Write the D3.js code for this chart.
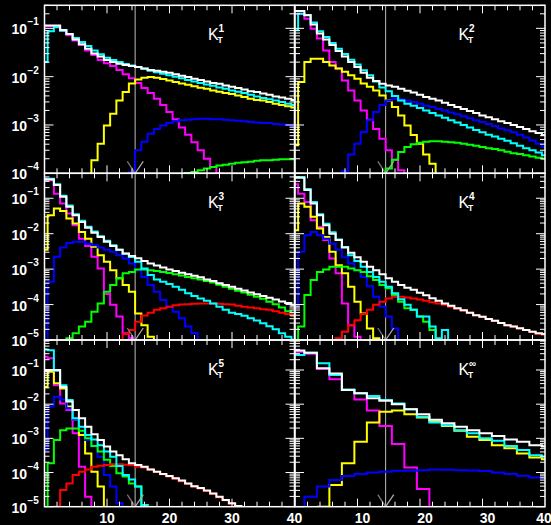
<!DOCTYPE html>
<html>
<head>
<meta charset="utf-8">
<title>K_T distributions</title>
<script src="https://cdn.jsdelivr.net/npm/d3@7"></script>
<style>
  html, body { margin: 0; padding: 0; background: #000; }
  svg { display: block; }
  text { font-family: "Liberation Sans", Arial, Helvetica, sans-serif; fill: #fff; }
</style>
</head>
<body>
<div id="chart"></div>
<script>
// bin centres: panels 1-5 use unit bins, the last panel uses bins of width 2
const unitBins = d3.range(0, 41);
const doubleBins = d3.range(0.5, 41, 2);

// a run of bin contents that starts at bin index `start`
function fromBin(start, values) {
  return new Array(start).fill(null).concat(values);
}

// ---- K_T^1 ----
const kt1White = fromBin(0, [0.115,0.115,0.115,9.3e-2,7.6e-2,5.9e-2,4.7e-2,3.8e-2,3.0e-2,2.6e-2,2.2e-2,2.0e-2,1.86e-2,1.74e-2,1.66e-2,1.58e-2,1.48e-2,1.38e-2,1.32e-2,1.26e-2,1.20e-2,1.12e-2,1.05e-2,9.8e-3,9.1e-3,8.5e-3,7.9e-3,7.4e-3,7.1e-3,6.6e-3,6.2e-3,5.8e-3,5.4e-3,5.0e-3,4.8e-3,4.5e-3,4.2e-3,3.9e-3,3.7e-3,3.5e-3,3.3e-3]);
const kt1Cyan = fromBin(0, [2.0e-2,8.7e-2,1.05e-1,8.9e-2,7.6e-2,6.3e-2,5.2e-2,4.3e-2,3.5e-2,2.9e-2,2.45e-2,2.2e-2,2.0e-2,1.82e-2,1.70e-2,1.58e-2,1.45e-2,1.32e-2,1.23e-2,1.15e-2,1.07e-2,1.0e-2,9.3e-3,8.5e-3,7.9e-3,7.4e-3,6.9e-3,6.5e-3,6.0e-3,5.6e-3,5.2e-3,4.9e-3,4.6e-3,4.2e-3,3.9e-3,3.6e-3,3.4e-3,3.2e-3,3.0e-3,2.75e-3,2.6e-3]);
const kt1Magenta = fromBin(0, [1.1e-1,1.1e-1,1.1e-1,8.9e-2,7.2e-2,5.6e-2,4.5e-2,3.5e-2,2.8e-2,2.2e-2,1.9e-2,1.66e-2,1.38e-2,1.12e-2,9.3e-3,7.4e-3,5.8e-3,4.6e-3,3.5e-3,2.6e-3,1.86e-3,1.32e-3,8.9e-4,6.3e-4,4.4e-4,3.0e-4,2.0e-4,1.35e-4,8e-5]);
const kt1Yellow = fromBin(8, [1.86e-4,4.1e-4,9.8e-4,1.7e-3,3.2e-3,4.8e-3,7.2e-3,8.7e-3,9.5e-3,9.8e-3,9.5e-3,8.9e-3,8.3e-3,7.8e-3,7.2e-3,6.8e-3,6.3e-3,5.9e-3,5.6e-3,5.2e-3,4.9e-3,4.6e-3,4.4e-3,4.1e-3,3.8e-3,3.5e-3,3.3e-3,3.2e-3,3.0e-3,2.75e-3,2.6e-3,2.45e-3,2.3e-3]);
const kt1Blue = fromBin(14, [1.07e-4,3.0e-4,4.5e-4,6.6e-4,8.3e-4,9.8e-4,1.1e-3,1.2e-3,1.26e-3,1.29e-3,1.32e-3,1.35e-3,1.35e-3,1.32e-3,1.32e-3,1.29e-3,1.26e-3,1.23e-3,1.2e-3,1.15e-3,1.12e-3,1.1e-3,1.1e-3,1.05e-3,1.02e-3,1.0e-3,9.5e-4]);
const kt1Green = fromBin(23, [1.02e-4,1.07e-4,1.15e-4,1.26e-4,1.35e-4,1.45e-4,1.51e-4,1.58e-4,1.66e-4,1.7e-4,1.74e-4,1.82e-4,1.86e-4,1.86e-4,1.9e-4,1.95e-4,1.95e-4,1.95e-4]);

// ---- K_T^2 ----
const kt2White = fromBin(0, [2.3e-1,2.3e-1,1.86e-1,1.2e-1,7.8e-2,5.9e-2,4.5e-2,3.4e-2,2.6e-2,2.0e-2,1.58e-2,1.2e-2,9.5e-3,8.1e-3,7.1e-3,6.6e-3,6.2e-3,5.6e-3,5.1e-3,4.7e-3,4.2e-3,3.8e-3,3.5e-3,3.2e-3,2.9e-3,2.6e-3,2.35e-3,2.15e-3,1.95e-3,1.78e-3,1.58e-3,1.45e-3,1.32e-3,1.2e-3,1.1e-3,1.0e-3,9.1e-4,8.3e-4,7.4e-4,6.8e-4,6.2e-4]);
const kt2Cyan = fromBin(0, [9.1e-2,2.0e-1,1.9e-1,1.32e-1,8.7e-2,6.6e-2,5.0e-2,3.8e-2,2.95e-2,2.24e-2,1.78e-2,1.35e-2,1.07e-2,7.9e-3,6.0e-3,5.0e-3,4.0e-3,3.2e-3,2.75e-3,2.5e-3,2.24e-3,2.0e-3,1.78e-3,1.58e-3,1.41e-3,1.26e-3,1.12e-3,1.0e-3,8.9e-4,7.9e-4,7.1e-4,6.3e-4,5.8e-4,5.2e-4,4.7e-4,4.2e-4,3.7e-4,3.3e-4,3.0e-4,2.7e-4,2.35e-4]);
const kt2Magenta = fromBin(0, [2.0e-1,2.0e-1,1.58e-1,9.8e-2,6.2e-2,3.5e-2,2.0e-2,1.48e-2,8.3e-3,5.2e-3,3.2e-3,2.0e-3,1.29e-3,8.3e-4,5.2e-4,3.0e-4,1.9e-4,1.15e-4]);
const kt2Yellow = fromBin(0, [3.8e-4,7.8e-3,2.0e-2,2.35e-2,2.35e-2,2.0e-2,1.7e-2,1.48e-2,1.26e-2,1.07e-2,9.1e-3,7.2e-3,6.2e-3,5.2e-3,4.1e-3,3.2e-3,2.35e-3,1.58e-3,9.8e-4,6.2e-4,4.1e-4,2.45e-4,1.58e-4]);
const kt2Blue = fromBin(8, [1.12e-4,2.45e-4,4.1e-4,7.2e-4,1.26e-3,1.86e-3,2.6e-3,3.2e-3,3.5e-3,3.4e-3,3.2e-3,3.0e-3,2.75e-3,2.5e-3,2.35e-3,2.14e-3,2.0e-3,1.82e-3,1.66e-3,1.51e-3,1.38e-3,1.26e-3,1.15e-3,1.05e-3,9.5e-4,8.5e-4,7.8e-4,7.1e-4,6.3e-4,5.5e-4,4.8e-4,4.1e-4,3.5e-4]);
const kt2Green = fromBin(15, [1.26e-4,1.9e-4,2.75e-4,3.5e-4,4.0e-4,4.3e-4,4.5e-4,4.6e-4,4.6e-4,4.5e-4,4.4e-4,4.3e-4,4.1e-4,3.9e-4,3.7e-4,3.5e-4,3.3e-4,3.2e-4,3.0e-4,2.8e-4,2.6e-4,2.5e-4,2.35e-4,2.24e-4,2.1e-4,2.0e-4]);

// ---- K_T^3 ----
const kt3White = fromBin(0, [3.4e-1,3.4e-1,2.35e-1,1.1e-1,5.8e-2,3.3e-2,2.15e-2,1.48e-2,1.07e-2,8.1e-3,5.9e-3,4.5e-3,3.5e-3,2.75e-3,2.35e-3,2.04e-3,1.7e-3,1.45e-3,1.26e-3,1.12e-3,9.8e-4,8.9e-4,7.9e-4,7.2e-4,6.5e-4,5.9e-4,5.1e-4,4.6e-4,4.0e-4,3.55e-4,3.2e-4,2.8e-4,2.5e-4,2.2e-4,1.95e-4,1.74e-4,1.55e-4,1.38e-4,1.23e-4,1.1e-4,9.8e-5]);
const kt3Cyan = fromBin(0, [3.55e-1,3.55e-1,2.5e-1,1.17e-1,6.2e-2,3.55e-2,2.3e-2,1.58e-2,1.15e-2,8.5e-3,6.3e-3,4.7e-3,3.5e-3,2.7e-3,2.2e-3,1.62e-3,1.05e-3,6.8e-4,5.1e-4,4.4e-4,3.8e-4,3.2e-4,2.6e-4,2.1e-4,1.74e-4,1.48e-4,1.29e-4,1.07e-4,8.7e-5,7.1e-5,5.9e-5,5.4e-5,4.8e-5,4.1e-5,3.55e-5,2.95e-5,2.45e-5,2.0e-5,1.55e-5,1.23e-5,1.02e-5]);
const kt3Magenta = fromBin(0, [3.2e-1,3.2e-1,1.35e-1,7.1e-2,3.7e-2,1.74e-2,7.2e-3,4.5e-3,2.24e-3,1.05e-3,2.0e-4,9.8e-5,4.6e-5,1.55e-5,1.12e-5]);
const kt3Yellow = fromBin(0, [3.5e-3,3.3e-2,5.1e-2,4.4e-2,2.7e-2,1.95e-2,1.12e-2,7.2e-3,4.3e-3,2.45e-3,1.62e-3,9.3e-4,5.5e-4,3.55e-4,2.3e-4,5.6e-5,2.6e-5,1.23e-5]);
const kt3Blue = fromBin(1, [4.4e-4,2.24e-3,4.1e-3,5.5e-3,5.9e-3,5.8e-3,5.2e-3,4.7e-3,4.1e-3,3.55e-3,3.1e-3,2.45e-3,2.0e-3,1.45e-3,9.3e-4,6.0e-4,3.55e-4,2.3e-4,1.35e-4,8.7e-5,6.3e-5,4.1e-5,2.4e-5,1.55e-5]);
const kt3Green = fromBin(4, [1.12e-5,1.55e-5,2.4e-5,3.3e-5,6.3e-5,1.07e-4,2.3e-4,3.55e-4,5.5e-4,7.6e-4,8.3e-4,9.8e-4,9.8e-4,9.3e-4,8.9e-4,8.3e-4,7.8e-4,7.2e-4,6.6e-4,6.0e-4,5.5e-4,5.1e-4,4.6e-4,4.2e-4,3.6e-4,3.2e-4,2.8e-4,2.45e-4,2.2e-4,1.9e-4,1.66e-4,1.45e-4,1.2e-4,1.02e-4,8.3e-5,6.5e-5,4.8e-5]);
const kt3Red = fromBin(12, [9e-6,1.48e-5,1.9e-5,3.3e-5,4.9e-5,5.9e-5,7.1e-5,7.9e-5,8.7e-5,9.5e-5,1.0e-4,1.02e-4,1.05e-4,1.07e-4,1.07e-4,1.07e-4,1.05e-4,1.02e-4,1.0e-4,9.3e-5,8.7e-5,8.3e-5,7.9e-5,7.4e-5,7.1e-5,6.5e-5,5.9e-5,5.4e-5,4.9e-5]);

// ---- K_T^4 ----
const kt4White = fromBin(0, [3.8e-1,3.8e-1,1.7e-1,7.1e-2,3.3e-2,1.74e-2,1.0e-2,6.6e-3,4.1e-3,2.9e-3,2.15e-3,1.62e-3,1.17e-3,9.3e-4,7.2e-4,5.5e-4,4.4e-4,3.55e-4,3.0e-4,2.6e-4,2.15e-4,1.82e-4,1.51e-4,1.29e-4,1.07e-4,9.3e-5,7.9e-5,6.9e-5,5.9e-5,5.0e-5,4.5e-5,3.9e-5,3.5e-5,3.0e-5,2.6e-5,2.4e-5,2.15e-5,1.9e-5,1.7e-5,1.55e-5,1.48e-5]);
const kt4Cyan = fromBin(0, [4.0e-1,4.0e-1,1.82e-1,7.9e-2,3.55e-2,1.9e-2,1.1e-2,6.9e-3,4.2e-3,2.45e-3,1.7e-3,1.17e-3,8.3e-4,6.0e-4,4.4e-4,3.2e-4,2.1e-4,1.41e-4,9.8e-5,7.1e-5,4.6e-5,4.6e-5,2.4e-5,1.12e-5,1.9e-5]);
const kt4Magenta = fromBin(0, [2.5e-1,1.35e-1,7.9e-2,2.4e-2,1.55e-2,6.6e-3,2.0e-3,7.6e-4,1.07e-4,2.6e-5,1.23e-5]);
const kt4Yellow = fromBin(0, [1.26e-2,7.1e-2,5.8e-2,3.0e-2,1.41e-2,8.1e-3,3.1e-3,1.29e-3,7.6e-4,3.2e-4,1.2e-4,5.6e-5,2.1e-5,1.12e-5]);
const kt4Blue = fromBin(0, [8.7e-5,3.1e-3,9.1e-3,1.12e-2,9.1e-3,7.2e-3,5.2e-3,3.5e-3,2.15e-3,1.45e-3,9.3e-4,6.0e-4,3.3e-4,1.66e-4,8.7e-5,4.6e-5,2.1e-5]);
const kt4Green = fromBin(1, [2.4e-5,1.86e-4,4.9e-4,8.3e-4,9.8e-4,1.17e-3,1.17e-3,1.17e-3,1.05e-3,9.3e-4,8.3e-4,6.3e-4,4.9e-4,3.55e-4,2.9e-4,1.86e-4,1.2e-4,7.9e-5,7.1e-5,4.6e-5,3.3e-5,1.9e-5]);
const kt4Red = fromBin(7, [1.12e-5,1.7e-5,2.6e-5,3.6e-5,5.4e-5,7.1e-5,9.8e-5,1.2e-4,1.48e-4,1.66e-4,1.66e-4,1.58e-4,1.48e-4,1.38e-4,1.29e-4,1.17e-4,1.07e-4,9.8e-5,8.7e-5,7.6e-5,6.8e-5,5.9e-5,5.0e-5,4.5e-5,3.9e-5,3.5e-5,3.0e-5,2.6e-5,2.4e-5,2.1e-5,1.9e-5,1.7e-5,1.51e-5,1.41e-5]);

// ---- K_T^5 ----
const kt5White = fromBin(0, [1.0e-1,1.0e-1,1.0e-1,3.2e-2,1.2e-2,6.8e-3,3.9e-3,2.2e-3,1.32e-3,8.9e-4,5.8e-4,4.1e-4,3.2e-4,2.45e-4,1.86e-4,1.66e-4,1.48e-4,1.23e-4,1.05e-4,9.1e-5,7.9e-5,6.8e-5,5.8e-5,4.8e-5,4.0e-5,3.5e-5,3.0e-5,2.45e-5,1.95e-5,1.58e-5,1.26e-5,1.05e-5]);
const kt5Cyan = fromBin(0, [4.0e-1,3.8e-1,9.5e-2,3.6e-2,1.32e-2,3.9e-3,2.2e-3,1.26e-3,9.3e-4,6.3e-4,4.1e-4,2.9e-4,1.55e-4,8.5e-5,6.3e-5,3.9e-5,1.12e-5]);
const kt5Magenta = fromBin(0, [2.45e-1,2.2e-1,3.6e-2,1.05e-2,6.8e-3,1.41e-3,1.48e-4,1.95e-5]);
const kt5Yellow = fromBin(0, [3.2e-2,8.9e-2,4.1e-2,2.9e-2,8.5e-3,3.5e-3,1.26e-3,3.6e-4,1.05e-4,3.9e-5]);
const kt5Blue = fromBin(0, [4.6e-4,8.5e-3,1.66e-2,1.38e-2,7.6e-3,3.5e-3,2.1e-3,8.9e-4,5.8e-4,2.9e-4,8.5e-5,3.9e-5,1.26e-5]);
const kt5Green = fromBin(1, [1.86e-4,8.9e-4,1.74e-3,1.95e-3,1.95e-3,1.66e-3,1.0e-3,6.0e-4,4.1e-4,2.35e-4,1.55e-4,9.5e-5,7.6e-5,4.8e-5,3.9e-5,1.12e-5]);
const kt5Red = fromBin(2, [9e-6,3.1e-5,4.8e-5,8.5e-5,1.05e-4,1.23e-4,1.48e-4,1.58e-4,1.66e-4,1.74e-4,1.74e-4,1.7e-4,1.62e-4,1.48e-4,1.41e-4,1.23e-4,1.05e-4,8.9e-5,7.6e-5,6.6e-5,5.6e-5,4.7e-5,3.9e-5,3.4e-5,2.9e-5,2.4e-5,1.9e-5,1.55e-5,1.23e-5,1.02e-5]);

// ---- K_T^inf (bins of width 2) ----
const ktInfWhite = fromBin(0, [3.7e-1,3.2e-1,1.12e-1,7.9e-2,2.6e-2,2.1e-2,1.48e-2,1.26e-2,1.0e-2,7.1e-3,5.1e-3,3.5e-3,2.75e-3,2.2e-3,1.74e-3,1.41e-3,1.17e-3,9.3e-4,7.9e-4,6.3e-4,5.8e-4]);
const ktInfCyan = fromBin(0, [2.75e-1,3.2e-1,1.58e-1,7.1e-2,2.7e-2,2.1e-2,1.74e-2,1.32e-2,1.05e-2,7.1e-3,4.3e-3,2.9e-3,2.4e-3,1.74e-3,1.41e-3,1.0e-3,8.5e-4,6.0e-4,4.6e-4,3.2e-4,2.9e-4]);
const ktInfMagenta = fromBin(0, [3.4e-1,3.0e-1,1.07e-1,5.4e-2,2.6e-2,1.38e-2,6.5e-3,2.3e-3,6.8e-4,1.41e-4,3.3e-5]);
const ktInfYellow = fromBin(2, [9e-6,4.3e-5,1.86e-4,7.9e-4,2.9e-3,6.0e-3,6.5e-3,5.1e-3,4.1e-3,3.1e-3,2.3e-3,1.66e-3,1.12e-3,8.9e-4,6.3e-4,5.1e-4,3.6e-4,2.75e-4,2.45e-4]);
const ktInfBlue = fromBin(1, [1.95e-5,3.9e-5,6.0e-5,7.9e-5,9.1e-5,1.0e-4,1.05e-4,1.12e-4,1.12e-4,1.17e-4,1.23e-4,1.2e-4,1.17e-4,1.15e-4,1.1e-4,1.0e-4,9.1e-5,8.1e-5,7.2e-5,6.9e-5]);

const cutValue = 14.5;
const xTickLabels = [10, 20, 30, 40];

const panels = [
  {row: 0, col: 0, power: "1", bins: unitBins, width: 1,
   white: kt1White, cyan: kt1Cyan, magenta: kt1Magenta, yellow: kt1Yellow, blue: kt1Blue, green: kt1Green},
  {row: 0, col: 1, power: "2", bins: unitBins, width: 1,
   white: kt2White, cyan: kt2Cyan, magenta: kt2Magenta, yellow: kt2Yellow, blue: kt2Blue, green: kt2Green},
  {row: 1, col: 0, power: "3", bins: unitBins, width: 1,
   white: kt3White, cyan: kt3Cyan, magenta: kt3Magenta, yellow: kt3Yellow, blue: kt3Blue, green: kt3Green, red: kt3Red},
  {row: 1, col: 1, power: "4", bins: unitBins, width: 1,
   white: kt4White, cyan: kt4Cyan, magenta: kt4Magenta, yellow: kt4Yellow, blue: kt4Blue, green: kt4Green, red: kt4Red},
  {row: 2, col: 0, power: "5", bins: unitBins, width: 1,
   white: kt5White, cyan: kt5Cyan, magenta: kt5Magenta, yellow: kt5Yellow, blue: kt5Blue, green: kt5Green, red: kt5Red},
  {row: 2, col: 1, power: "\u221e", bins: doubleBins, width: 2,
   white: ktInfWhite, cyan: ktInfCyan, magenta: ktInfMagenta, yellow: ktInfYellow, blue: ktInfBlue}
];

// pad layout
const cols = [{left: 44.5, right: 294.5}, {left: 295, right: 545}];
const rows = [
  {top: 5.3, bottom: 173.3, yMin: 1e-4, yMax: 0.3},
  {top: 173.3, bottom: 340, yMin: 1e-5, yMax: 0.506},
  {top: 340, bottom: 506.7, yMin: 1e-5, yMax: 0.755}
];

// drawing order and colours
const seriesStyle = [
  ["magenta", "#ff00ff"], ["yellow", "#ffff00"], ["blue", "#0000ff"],
  ["green", "#00ff00"], ["red", "#ff0000"], ["cyan", "#00ffff"], ["white", "#ffffff"]
];

const svg = d3.select("#chart").append("svg")
    .attr("width", 551)
    .attr("height", 525);

svg.append("rect").attr("width", 551).attr("height", 525).attr("fill", "#000");

panels.forEach((p, i) => {
  const c = cols[p.col], r = rows[p.row];
  const x = d3.scaleLinear().domain([0, 40]).range([c.left, c.right]);
  const y = d3.scaleLog().domain([r.yMin, r.yMax]).range([r.bottom, r.top]).clamp(true);

  const clipId = "pad" + i;
  svg.append("clipPath").attr("id", clipId).append("rect")
      .attr("x", c.left).attr("y", r.top)
      .attr("width", c.right - c.left).attr("height", r.bottom - r.top);

  const g = svg.append("g");
  const plot = g.append("g").attr("clip-path", "url(#" + clipId + ")");

  // cut line
  plot.append("line")
      .attr("x1", x(cutValue)).attr("x2", x(cutValue))
      .attr("y1", r.top).attr("y2", r.bottom)
      .attr("stroke", "#bdbdbd").attr("stroke-width", 1);

  // histograms as step outlines
  const line = d3.line().x(d => x(d[0])).y(d => y(d[1]));
  const half = p.width / 2;
  seriesStyle.forEach(([key, colour]) => {
    const vals = p[key];
    if (!vals) return;
    const filled = vals.map((v, k) => v == null ? -1 : k).filter(k => k >= 0);
    const first = filled[0], last = filled[filled.length - 1];
    const pts = [[p.bins[first] - half, r.yMin]];
    for (let k = first; k <= last; k++) {
      pts.push([p.bins[k] - half, vals[k]]);
      pts.push([p.bins[k] + half, vals[k]]);
    }
    pts.push([p.bins[last] + half, r.yMin]);
    plot.append("path")
        .attr("d", line(pts))
        .attr("fill", "none")
        .attr("stroke", colour)
        .attr("stroke-width", 2);
  });

  // arrow mark at the cut
  plot.append("line")
      .attr("x1", x(cutValue - 1.25)).attr("y1", r.bottom - 12)
      .attr("x2", x(cutValue)).attr("y2", r.bottom)
      .attr("stroke", "#777").attr("stroke-width", 1.3);
  plot.append("line")
      .attr("x1", x(cutValue + 1.3)).attr("y1", r.bottom - 12)
      .attr("x2", x(cutValue)).attr("y2", r.bottom)
      .attr("stroke", "#aaa").attr("stroke-width", 1.3);

  // ticks on all four sides
  const ticks = g.append("g").attr("stroke", "#fff").attr("stroke-width", 1);
  x.ticks(20).filter(t => t > 0 && t < 40).forEach(t => {
    const len = t % 10 === 0 ? 8 : 5;
    ticks.append("line").attr("x1", x(t)).attr("x2", x(t))
        .attr("y1", r.bottom).attr("y2", r.bottom - len);
    ticks.append("line").attr("x1", x(t)).attr("x2", x(t))
        .attr("y1", r.top).attr("y2", r.top + len);
  });
  const isDecade = t => Math.abs(Math.log10(t) - Math.round(Math.log10(t))) < 1e-6;
  y.ticks().forEach(t => {
    const len = isDecade(t) ? 9 : 5;
    ticks.append("line").attr("x1", c.left).attr("x2", c.left + len)
        .attr("y1", y(t)).attr("y2", y(t));
    ticks.append("line").attr("x1", c.right).attr("x2", c.right - len)
        .attr("y1", y(t)).attr("y2", y(t));
  });

  // frame
  g.append("rect")
      .attr("x", c.left).attr("y", r.top)
      .attr("width", c.right - c.left).attr("height", r.bottom - r.top)
      .attr("fill", "none").attr("stroke", "#fff").attr("stroke-width", 1.5);

  // y labels on the left column
  if (p.col === 0) {
    y.ticks().filter(isDecade).forEach(t => {
      const e = Math.round(Math.log10(t));
      g.append("text").attr("x", 27).attr("y", y(t) + 6)
          .attr("text-anchor", "end").attr("font-size", 14).attr("font-weight", "bold")
          .text("10");
      g.append("text").attr("x", 27.5).attr("y", y(t) - 3)
          .attr("font-size", 10).attr("font-weight", "bold")
          .text("\u2212" + (-e));
    });
  }

  // x labels on the bottom row
  if (p.row === 2) {
    xTickLabels.forEach(v => {
      const dx = p.col === 1 ? (v === 40 ? -1 : 5) : 0;
      g.append("text").attr("x", x(v) + dx).attr("y", 522.5)
          .attr("text-anchor", "middle").attr("font-size", 14).attr("font-weight", "bold")
          .text(v);
    });
  }

  // K_T^n label
  const lab = g.append("g");
  lab.append("text").attr("x", c.left + 163.5).attr("y", r.top + 35)
      .attr("font-size", 16).text("K");
  lab.append("text").attr("x", c.left + 174).attr("y", r.top + 27)
      .attr("font-size", 10).attr("font-weight", "bold").text(p.power);
  lab.append("text").attr("x", c.left + 173).attr("y", r.top + 37.5)
      .attr("font-size", 8.5).attr("font-weight", "bold").text("T");
});
</script>
</body>
</html>
